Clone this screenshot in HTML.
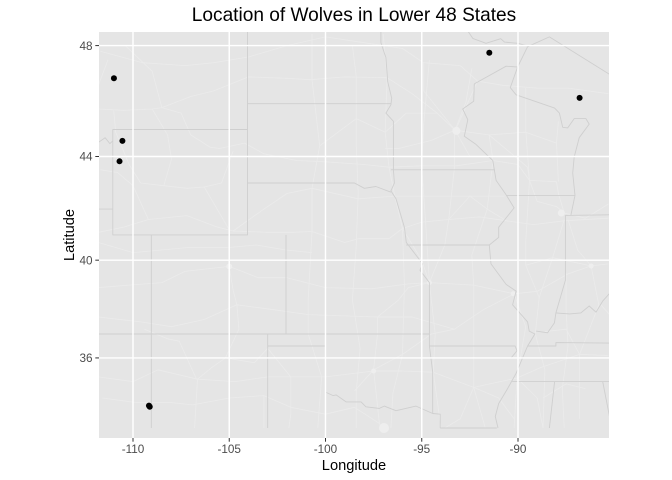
<!DOCTYPE html>
<html>
<head>
<meta charset="utf-8">
<title>Location of Wolves in Lower 48 States</title>
<style>
html,body{margin:0;padding:0;background:#fff;width:672px;height:480px;overflow:hidden}
svg{display:block;font-family:"Liberation Sans",Arial,sans-serif}
</style>
</head>
<body>
<svg id="chart" width="672" height="480" viewBox="0 0 672 480">
<defs><clipPath id="panel-clip"><rect x="99" y="32" width="510" height="406"/></clipPath></defs>
<rect x="0" y="0" width="672" height="480" fill="#fff"/>
<rect x="99" y="32" width="510" height="406" fill="#e5e5e5"/>
<g id="roads" clip-path="url(#panel-clip)"></g>
<g id="borders" clip-path="url(#panel-clip)"></g>
<g id="grid" clip-path="url(#panel-clip)"></g>
<g id="points" clip-path="url(#panel-clip)"></g>
<g id="axes"></g>
<text x="354" y="21" text-anchor="middle" font-size="19.1" fill="#000">Location of Wolves in Lower 48 States</text>
<text x="354" y="470" text-anchor="middle" font-size="14.67" fill="#000">Longitude</text>
<text x="0" y="0" transform="translate(74 235) rotate(-90)" text-anchor="middle" font-size="14.67" fill="#000">Latitude</text>
</svg>
<script>
const xTicks = [-110, -105, -100, -95, -90];
const yTicks = [48, 44, 40, 36];
const wolfLon = [-110.99, -110.55, -110.7, -109.17, -109.13, -91.49, -86.8];
const wolfLat = [46.85, 44.58, 43.82, 33.97, 33.92, 47.75, 46.15];

const stateBorders = [
 [[-111.05,42],[-111.05,45],[-104.05,45],[-104.05,41],[-111.05,41],[-111.05,42]],
 [[-109.05,41],[-109.05,33]],
 [[-102.05,41],[-102.05,37]],
 [[-112,37],[-94.62,37]],
 [[-103,37],[-103,33]],
 [[-103,36.5],[-100,36.5],[-100,34.55],[-99.6,34.4],[-99.45,34.43],[-98.93,34.13],[-98.15,34.13],[-97.9,33.92],[-97.2,33.85],[-96.95,33.95],[-96.34,33.75],[-95.3,33.95],[-94.43,33.63],[-94.04,33.6],[-94.04,33]],
 [[-94.6,36.5],[-94.43,35.4],[-94.43,33.63]],
 [[-94.04,33],[-91.1,33]],
 [[-112,42],[-111.05,42]],
 [[-111.8,44.52],[-111.45,44.7],[-111.2,44.48],[-111.05,44.58]],
 [[-104.05,48.6],[-104.05,45]],
 [[-104.05,45.94],[-96.6,45.94]],
 [[-104.05,43],[-98.5,43],[-97.98,42.8],[-97.38,42.87],[-96.6,42.65]],
 [[-102.05,40],[-95.3,40]],
 [[-97.12,48.5],[-97.12,48.1],[-96.86,47.58],[-96.77,46.73],[-96.56,46.14],[-96.6,45.9],[-96.86,45.6],[-96.47,45.3],[-96.47,43.5],[-96.42,43],[-96.6,42.7],[-96.34,42.4],[-95.9,41.3],[-95.8,40.7],[-94.95,39.85],[-95.09,39.6],[-94.6,39.1],[-94.6,36.5]],
 [[-96.6,43.5],[-91.2,43.5]],
 [[-95.8,40.6],[-91.49,40.6]],
 [[-94.6,36.5],[-90.15,36.5],[-90.05,36.3],[-90.36,36]],
 [[-92.6,48.5],[-92.35,48.25],[-91.66,48.08],[-90.9,48.24],[-90.7,48.12],[-90,48.08],[-89.43,47.97]],
 [[-89.5,47.96],[-88.37,48.3],[-85.26,47]],
 [[-92.27,46.65],[-90.62,47.28],[-90.02,47.25]],
 [[-89.5,47.96],[-90.02,47.25],[-90.4,46.52],[-90.1,46.26],[-88.1,45.78],[-87.85,45.6],[-87.68,45.08],[-87.42,45.06],[-87.08,45.4],[-86.47,45.4],[-86.3,45.2],[-86.82,44.7],[-87.08,43.98],[-87.16,43.38],[-87.04,42.53],[-87.25,41.77]],
 [[-92.27,46.65],[-92.3,46.03],[-92.87,45.75],[-92.61,45.36],[-92.79,44.75],[-92.18,44.45],[-91.31,43.85],[-91.14,43.1],[-90.62,42.55],[-90.2,42.05],[-91,41.3],[-91,40.9],[-91.49,40.6],[-91.4,39.85],[-90.62,39.03],[-90.1,38.76],[-90.28,38.2],[-89.5,37.5],[-89.42,37.12],[-89.12,37],[-89.5,36.5],[-90.1,35.35],[-90.54,34.7],[-91,34.06],[-91.18,33.5],[-91.04,33]],
 [[-90.62,42.52],[-87.04,42.52]],
 [[-87.54,41.76],[-85.2,41.78]],
 [[-87.54,41.76],[-87.54,39.2],[-88.03,37.87],[-88.11,37.46],[-88.46,37.05],[-89.06,37.12]],
 [[-88.03,37.87],[-87.33,37.83],[-86.73,37.87],[-86.3,38.15],[-85.95,37.9],[-85.6,38.35],[-85.2,38.7]],
 [[-89.5,36.5],[-88.03,36.5],[-88.03,36.64],[-85.2,36.62]],
 [[-90.3,35],[-85.2,35]],
 [[-88.1,35],[-88.37,33]],
 [[-85.6,35],[-85.2,33.3]]
];

const roadLines = [
 [[-111.8,41.1],[-110.5,41.3],[-109.2,41.6],[-107.2,41.75],[-105.6,41.3],[-104.8,41.15],[-103,41.1],[-101.7,41.1],[-100.7,41.13],[-99,40.7],[-98.3,40.85],[-96.7,40.85],[-96,41.25],[-95,41.5],[-93.6,41.6],[-92,41.7],[-90.6,41.55],[-89.2,41.4],[-87.6,41.55],[-85.3,41.65]],
 [[-111.8,45.75],[-110.5,45.7],[-109,45.75],[-108.5,45.8],[-107.5,45.6],[-107,44.8],[-106,44.35],[-105.5,44.3],[-104.2,44.5],[-103.2,44.1],[-101.5,43.85],[-100,43.8],[-98,43.7],[-96.7,43.6],[-95,43.65],[-93.2,43.65],[-91.3,43.85],[-90,43.7],[-89.4,43.1],[-89,42.3],[-88,42.1],[-87.6,41.85]],
 [[-108.5,45.8],[-107,46.2],[-105.8,46.4],[-104,46.9],[-102,46.85],[-100.8,46.8],[-99,46.9],[-96.8,46.87],[-95.5,46.3],[-94.2,45.6],[-93.27,44.98],[-92,44.85],[-91.5,44.8],[-90.5,44.2],[-89.5,43.6],[-89.4,43.1],[-88,43.05],[-87.9,42.6],[-87.6,41.85],[-86.5,41.65],[-85.3,42.2]],
 [[-111.8,38.9],[-110.2,39],[-108.5,39.1],[-107.3,39.55],[-105,39.75],[-103.5,39.3],[-102,39.3],[-100,38.9],[-97.6,38.85],[-95.7,39.05],[-94.6,39.1],[-92.3,39],[-90.2,38.65],[-89,38.75],[-87.4,39.45],[-86.2,39.77],[-85.3,39.85]],
 [[-111.8,35.2],[-110,35],[-108.7,35.5],[-106.65,35.1],[-104.7,35],[-103,35.2],[-101.8,35.2],[-100,35.2],[-97.5,35.45],[-96,35.45],[-94.4,35.4],[-92.3,34.75],[-90.05,35.15],[-88.8,35.6],[-86.8,36.15],[-85.3,36.1]],
 [[-92.1,46.75],[-93.3,44.9],[-93.3,43.6],[-93.6,41.6],[-93.8,40.6],[-94.6,39.1],[-95.7,38.9],[-96.2,38.4],[-97.3,37.7],[-97.3,37],[-97.5,35.5],[-97.2,33.2],[-97.1,33]],
 [[-104.8,44.2],[-105.4,43],[-106.3,42.85],[-105,41.2],[-105,39.75],[-104.8,38.8],[-104.6,38.2],[-104.5,37.2],[-105.2,36],[-105.9,35.6],[-106.65,35.1],[-106.8,33]],
 [[-97,48.4],[-96.8,46.87],[-96.9,44.9],[-96.7,43.6],[-96.4,42.5],[-96,41.25],[-95,40],[-94.6,39.1]],
 [[-98.5,34.6],[-97.5,35.5],[-96,36.15],[-94.5,37],[-93.3,37.2],[-91.8,38],[-90.2,38.65]],
 [[-90.2,38.65],[-89.6,37.3],[-90.05,35.15],[-90.2,33]],
 [[-87.6,41.6],[-88.2,40.1],[-88.9,38.5],[-89.1,37],[-88.6,35.5],[-88.7,33]],
 [[-87.4,41.6],[-86.9,40.4],[-86.2,39.77],[-85.8,38.2],[-86.8,36.15],[-86.8,33.4]],
 [[-111.3,47.5],[-111.8,46.6]],
 [[-111,45.7],[-110.9,44.9],[-110.2,43.7],[-109.6,43],[-108.4,42.9],[-107.2,42.8],[-106.3,42.85]],
 [[-111.7,43.5],[-110.8,43.4],[-110,42.9],[-109.2,41.6]],
 [[-109,45.75],[-108.2,44.8],[-108,43.9],[-108.4,42.9]],
 [[-110.4,48],[-109,47.1],[-108.5,45.8]],
 [[-111.7,47.8],[-109.5,47.4],[-107.3,47.3],[-105.8,47.4],[-104,47.6],[-102,48],[-100,48.3],[-98,48.1],[-96,47.9],[-94.9,47.4],[-93,47.3],[-92.1,46.75],[-90.8,46.6],[-89,46.5],[-87.4,46.5],[-85.3,46.3]],
 [[-100.7,48.4],[-100.7,46.8],[-100.3,44.4],[-100.7,42.8],[-100.7,41.13],[-100.9,38.4],[-100.9,37],[-100.2,35.2],[-100.4,33]],
 [[-98.6,48],[-98.4,46.9],[-98.4,44.4],[-98.3,42.6],[-98.4,40.6],[-98.6,38.4],[-98.2,36.4],[-98.4,34.6],[-98.4,33]],
 [[-96,41.25],[-95.9,39],[-96,36.15],[-96.5,34.5],[-96.6,33]],
 [[-94.6,47.5],[-94.9,45.2],[-95,43.65],[-94.8,41.5],[-94.6,39.1],[-94.3,37],[-94.4,35.4],[-94,33]],
 [[-91.5,44.8],[-91.3,43.85],[-91.6,42],[-92.4,40.2],[-92.3,39],[-92.3,37.2],[-92.3,34.75],[-91.7,33]],
 [[-89.6,46.5],[-89.6,45],[-89.4,43.1],[-89.6,40.7],[-89.6,39.8],[-88.9,38.5]],
 [[-87.9,45.3],[-88,44.5],[-87.9,43.05]],
 [[-88,44.5],[-89.6,44.9],[-91.5,44.8]],
 [[-87.5,39.5],[-87.5,38],[-87.4,36.5],[-87.7,34.7],[-87.6,33]],
 [[-89.6,39.8],[-88.2,40.1],[-86.2,39.77]],
 [[-104.8,41.15],[-103.2,42],[-102,42.6],[-100.7,42.8],[-98.3,42.4],[-96.4,42.5],[-94.2,42.5],[-92.4,42.5],[-90.7,42.5]],
 [[-111.8,40.7],[-110,40.3],[-108.6,40.4],[-107.2,40.5],[-105.1,40.5],[-103.6,40.6],[-102,40.4],[-100.7,40.3]],
 [[-111.8,37.7],[-109.6,37.5],[-108,37.3],[-106.3,37.6],[-104.6,38.2],[-102.7,38],[-100.9,37.8],[-97.3,37.7],[-95.5,37.7],[-93.3,37.2]],
 [[-111.6,34.3],[-109.8,34.1],[-108,34.1],[-106.9,34],[-105,34.3],[-103.2,34.4],[-101.8,33.9],[-100,33.6],[-98.5,33.9],[-97.2,33.2]],
 [[-106.7,35.1],[-107.6,36.7],[-108.2,36.8],[-109.4,37.2]],
 [[-105.2,36],[-103.7,35.8],[-103,36.4],[-101.8,35.2]],
 [[-101.8,35.2],[-101.8,33.6],[-101.9,33]],
 [[-103.2,34.4],[-103.2,33]],
 [[-92.3,34.75],[-93,33.4],[-93.8,33]],
 [[-92.3,34.75],[-91,34.3],[-90.2,33.4]],
 [[-90.05,35.15],[-89,34.3],[-88.7,33]],
 [[-86.8,36.15],[-87.5,37.2],[-88.6,37.1]],
 [[-85.7,38.2],[-84.9,37.5]],
 [[-86.5,34.7],[-87.5,34.9],[-88.7,34.3]],
 [[-93.6,41.6],[-92.5,42.5],[-91.6,42],[-90.6,41.55]],
 [[-94.2,45.6],[-95.8,45.6],[-96.9,44.9],[-98.4,45.4],[-100.3,44.4]],
 [[-93.27,44.98],[-94.5,44.6],[-96.2,44.3],[-96.9,44.3]],
 [[-93.27,44.98],[-92.5,44],[-91.6,44]],
 [[-93.27,44.98],[-92.7,46],[-92.4,47.2]],
 [[-93.27,44.98],[-94.9,46.4],[-94.9,47.4]]
];

const metroLon = [-93.2, -96.96, -87.75, -90.25, -94.6, -105, -97.5, -86.2];
const metroLat = [44.95, 33, 41.85, 38.65, 39.1, 39.75, 35.45, 39.77];
const metroSize = [4, 5, 3.5, 2.5, 2.5, 3, 2.5, 2.5];

const NS = 'http://www.w3.org/2000/svg';
const panelLeft = 99, panelTop = 32, panelRight = 609, panelBottom = 438;
const pxPerDegree = 19.25;
const lonAtLeft = -111.766;
const latAtTop = 48.47;

function mercator(lat) {
  return Math.log(Math.tan(Math.PI / 4 + lat * Math.PI / 360)) * 180 / Math.PI;
}
function xScale(lon) {
  return panelLeft + (lon - lonAtLeft) * pxPerDegree;
}
function yScale(lat) {
  return panelTop + (mercator(latAtTop) - mercator(lat)) * pxPerDegree;
}
function make(tag, attrs, parent) {
  const el = document.createElementNS(NS, tag);
  Object.keys(attrs).forEach(function (k) { el.setAttribute(k, attrs[k]); });
  parent.appendChild(el);
  return el;
}
function toPoints(line) {
  return line.map(function (p) { return xScale(p[0]).toFixed(1) + ',' + yScale(p[1]).toFixed(1); }).join(' ');
}

const roadLayer = document.getElementById('roads');
roadLines.forEach(function (line) {
  const el = make('polyline', { points: toPoints(line), fill: 'none', stroke: '#ebebeb', 'stroke-width': 0.8, 'stroke-linejoin': 'round' }, roadLayer);
  
  
});
metroLon.forEach(function (lon, i) {
  const el = make('circle', { cx: xScale(lon), cy: yScale(metroLat[i]), r: metroSize[i], fill: '#eeeeee' }, roadLayer);
  
  
});

const borderLayer = document.getElementById('borders');
stateBorders.forEach(function (line) {
  const el = make('polyline', { points: toPoints(line), fill: 'none', stroke: '#cfcfcf', 'stroke-width': 0.9, 'stroke-linejoin': 'round' }, borderLayer);
  
  
});

const gridLayer = document.getElementById('grid');
const axesLayer = document.getElementById('axes');
xTicks.forEach(function (v) {
  const x = xScale(v);
  const line = make('line', { x1: x, x2: x, y1: panelTop, y2: panelBottom, stroke: '#fff', 'stroke-width': 1.45 }, gridLayer);
  
  
  const tick = make('line', { x1: x, x2: x, y1: panelBottom, y2: panelBottom + 3.7, stroke: '#333', 'stroke-width': 1 }, axesLayer);
  
  
  const label = make('text', { x: x, y: panelBottom + 15, 'text-anchor': 'middle', 'font-size': 11.73, fill: '#4d4d4d' }, axesLayer);
  
  
  label.textContent = String(v);
});
yTicks.forEach(function (v) {
  const y = yScale(v);
  const line = make('line', { x1: panelLeft, x2: panelRight, y1: y, y2: y, stroke: '#fff', 'stroke-width': 1.45 }, gridLayer);
  
  
  const tick = make('line', { x1: panelLeft - 3.7, x2: panelLeft, y1: y, y2: y, stroke: '#333', 'stroke-width': 1 }, axesLayer);
  
  
  const label = make('text', { x: panelLeft - 6.5, y: y + 4.2, 'text-anchor': 'end', 'font-size': 11.73, fill: '#4d4d4d' }, axesLayer);
  
  
  label.textContent = String(v);
});

const pointLayer = document.getElementById('points');
wolfLon.forEach(function (lon, i) {
  const el = make('circle', { cx: xScale(lon), cy: yScale(wolfLat[i]), r: 3, fill: '#000' }, pointLayer);
  
  
});
</script>
</body>
</html>
